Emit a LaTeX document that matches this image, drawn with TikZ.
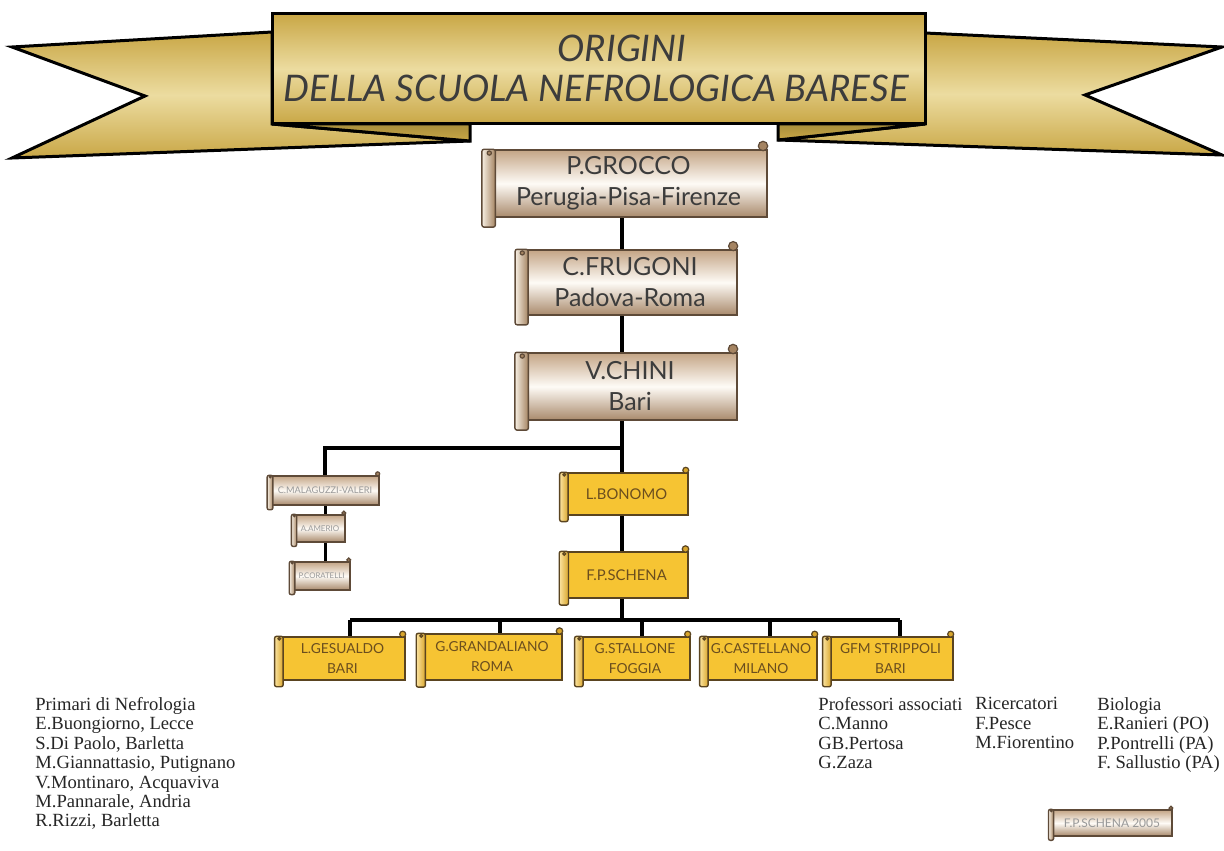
\documentclass[tikz,border=0pt]{standalone}
\usepackage{fontspec}
\setmainfont{Liberation Serif}
\newfontfamily\scrfont{Lato}
\usetikzlibrary{calc,backgrounds}
\definecolor{bTop}{HTML}{C4A586}
\definecolor{bMid}{HTML}{FEFBF6}
\definecolor{bBot}{HTML}{A98A6C}
\definecolor{bord}{HTML}{5E4A38}
\definecolor{rollL}{HTML}{F6EEE2}
\definecolor{rollR}{HTML}{A58462}
\definecolor{gFill}{HTML}{F6C433}
\definecolor{gbord}{HTML}{5A4420}
\definecolor{gRollL}{HTML}{FBE3A0}
\definecolor{gRollR}{HTML}{D9A62C}
\definecolor{gtxt}{HTML}{6B4E1E}
\definecolor{txt}{HTML}{3C3C3C}
\definecolor{ban1}{HTML}{C9A746}
\definecolor{ban2}{HTML}{ECDCA0}
\definecolor{fold}{HTML}{A88E3C}
\newcommand\fsz[2]{\fontsize{#1}{#2}\selectfont}
% name, cx, cy, w, h, kind, {size}{skip}, text
\newcommand\scrl[8]{%
 \node[#6, font=\scrfont\fsz#7, minimum width=#4*0.5pt, minimum height=#5*0.5pt] (#1) at (#2,#3) {#8};
 \pgfmathsetmacro\scW{0.2*#5}%
 \pgfmathsetmacro\scE{0.14*#5}%
 \pgfmathsetmacro\scR{0.07*#5}%
 \draw[#6 roll, rounded corners=1pt] ($(#1.north west)+(-0.55*\scW,0)$) rectangle ($(#1.south west)+(0.45*\scW,\scE)$);
 \draw[#6 curl] ($(#1.north west)+(0,0.8*\scR)$) circle[radius=0.45*\scR*0.5pt];
 \draw[#6 curl] ($(#1.north east)+(-\scR,-0.7*\scR)$) circle[radius=\scR*0.5pt];
}
\tikzset{
 beige/.style={draw=bord, line width=0.7pt, top color=bTop, bottom color=bBot, middle color=bMid, inner sep=0pt, align=center, text=txt},
 beige roll/.style={draw=bord, line width=0.7pt, left color=rollL, right color=rollR},
 beige curl/.style={draw=bord, line width=0.6pt, fill=rollR},
 pbeige/.style={beige, text=black!40},
 pbeige roll/.style={beige roll},
 pbeige curl/.style={beige curl},
 gold/.style={draw=gbord, line width=0.7pt, fill=gFill, inner sep=0pt, align=center, text=gtxt},
 gold roll/.style={draw=gbord, line width=0.7pt, left color=gRollL, right color=gRollR},
 gold curl/.style={draw=gbord, line width=0.6pt, fill=gRollR},
 conn/.style={line width=2pt, black},
 thinconn/.style={line width=1.5pt, black},
 banner/.style={draw=black, line width=1.5pt, line join=miter, top color=ban1, bottom color=ban1, middle color=ban2},
 foldpiece/.style={draw=black, line width=1.5pt, line join=miter, top color=fold, bottom color=ban1},
 title/.style={font=\scrfont\itshape\fsz{18.3}{22}, text=txt, inner sep=0pt},
 list/.style={font=\fsz{9.3}{9.7}, align=left, inner sep=0pt, anchor=north west, text=black!85},
}
\begin{document}
\begin{tikzpicture}[x=0.5pt,y=-0.5pt]
\useasboundingbox (0,0) rectangle (1224,850);
% banner
\path[banner] (272,32) -- (12,47) -- (145,96) -- (12,158) -- (470,141) -- (272,124) -- cycle;
\path[foldpiece] (272,124) -- (470,124) -- (470,141) -- cycle;
\path[banner] (925,33) -- (1222,47) -- (1085,95) -- (1222,155) -- (778,140) -- (925,124) -- cycle;
\path[foldpiece] (925,124) -- (778,124) -- (778,140) -- cycle;
\path[banner] (272,14) rectangle (925,124);
\node[title] (t1) at (622,48) {ORIGINI};
\node[title] (t2) at (596,88) {DELLA SCUOLA NEFROLOGICA BARESE};
% scrolls
\scrl{grocco}{628.5}{183.5}{277}{67}{beige}{{12.5}{15.5}}{P.GROCCO\\Perugia-Pisa-Firenze}
\scrl{frugoni}{630}{282.5}{214}{65}{beige}{{12.5}{15.5}}{C.FRUGONI\\Padova-Roma}
\scrl{chini}{630}{386.5}{214}{67}{beige}{{12.5}{15.5}}{V.CHINI\\Bari}
\scrl{malag}{325}{490.5}{108}{29}{pbeige}{{4.6}{5}}{C.MALAGUZZI-VALERI}
\scrl{amerio}{320}{528.5}{50}{27}{pbeige}{{4}{5}}{A.AMERIO}
\scrl{corat}{321.5}{576}{57}{28}{pbeige}{{3.9}{5}}{P.CORATELLI}
\scrl{bonomo}{626.5}{494}{123}{42}{gold}{{7.4}{9}}{L.BONOMO}
\scrl{schena}{626.5}{575}{123}{46}{gold}{{7.4}{9}}{F.P.SCHENA}
\scrl{gesu}{342.5}{658.5}{125}{43}{gold}{{6.9}{10}}{L.GESUALDO\\BARI}
\scrl{grand}{492}{657}{140}{46}{gold}{{6.9}{10}}{G.GRANDALIANO\\ROMA}
\scrl{stall}{635}{658.5}{110}{43}{gold}{{6.9}{10}}{G.STALLONE\\FOGGIA}
\scrl{cast}{761}{658.5}{112}{43}{gold}{{6.9}{10}}{G.CASTELLANO\\MILANO}
\scrl{strip}{890.5}{658.5}{125}{43}{gold}{{6.9}{10}}{GFM STRIPPOLI\\BARI}
\scrl{sig}{1112}{823}{120}{26}{pbeige}{{6}{7}}{F.P.SCHENA 2005}
% lists
\node[list] (l1) at (35,697) {Primari di Nefrologia\\E.Buongiorno, Lecce\\S.Di Paolo, Barletta\\M.Giannattasio, Putignano\\V.Montinaro, Acquaviva\\M.Pannarale, Andria\\R.Rizzi, Barletta};
\node[list] (l2) at (818,697) {Professori associati\\C.Manno\\GB.Pertosa\\G.Zaza};
\node[list] (l3) at (975,697) {Ricercatori\\F.Pesce\\M.Fiorentino};
\node[list] (l4) at (1097,697) {Biologia\\E.Ranieri (PO)\\P.Pontrelli (PA)\\F. Sallustio (PA)};
% connectors
\coordinate (sp) at (622,0);
\coordinate (br) at (622,448);
\coordinate (bl) at (325,448);
\coordinate (bm) at (622,620);
\coordinate (h1) at (350,620);
\coordinate (h2) at (500,620);
\coordinate (h3) at (642,620);
\coordinate (h4) at (770,620);
\coordinate (h5) at (900,620);
\begin{scope}[on background layer]
\fill[white] (0,0) rectangle (1224,850);
\draw[conn] (grocco.south -| sp) -- (frugoni.north -| sp);
\draw[conn] (frugoni.south -| sp) -- (chini.north -| sp);
\draw[conn] (chini.south -| sp) -- (br) -- (bl) -- (bl |- malag.north);
\draw[thinconn] (malag.south -| bl) -- (amerio.north -| bl);
\draw[thinconn] (amerio.south -| bl) -- (corat.north -| bl);
\draw[conn] (br) -- (bonomo.north -| br);
\draw[conn] (bonomo.south -| br) -- (schena.north -| br);
\draw[conn] (schena.south -| br) -- (bm);
\draw[conn] (h1) -- (h5);
\draw[conn] (h1) -- (h1 |- gesu.north);
\draw[conn] (h2) -- (h2 |- grand.north);
\draw[conn] (h3) -- (h3 |- stall.north);
\draw[conn] (h4) -- (h4 |- cast.north);
\draw[conn] (h5) -- (h5 |- strip.north);
\end{scope}
\end{tikzpicture}
\end{document}
